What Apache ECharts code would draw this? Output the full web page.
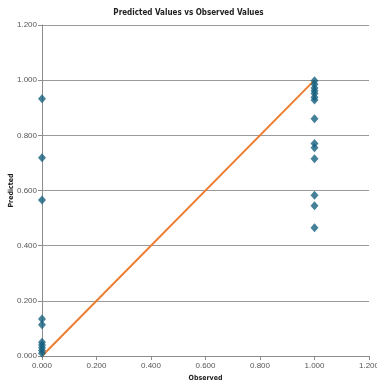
<!DOCTYPE html>
<html>
<head>
<meta charset="utf-8">
<script src="https://cdn.jsdelivr.net/npm/echarts@6/dist/echarts.min.js"></script>
<style>
    html, body { margin: 0; padding: 0; background: #fff; }
    #chart { width: 377px; height: 389px; }
</style>
</head>
<body>
<div id="chart"></div>
<script>
const observedZero = [0, 0, 0, 0, 0, 0, 0, 0, 0, 0];
const predictedZero = [0.933, 0.719, 0.566, 0.134, 0.113, 0.05, 0.04, 0.03, 0.02, 0.01];
const observedOne = [1, 1, 1, 1, 1, 1, 1, 1, 1, 1, 1, 1, 1, 1];
const predictedOne = [0.998, 0.985, 0.972, 0.962, 0.952, 0.938, 0.928, 0.86, 0.77, 0.755, 0.715, 0.583, 0.545, 0.465];
const lineX = [0, 1];
const lineY = [0, 1];

(function () {
    const chart = echarts.init(document.getElementById('chart'));
    const points = observedZero.map((x, i) => [x, predictedZero[i]])
        .concat(observedOne.map((x, i) => [x, predictedOne[i]]));
    const fit = lineX.map((x, i) => [x, lineY[i]]);
    const titleFont = '"Liberation Sans Narrow", "DejaVu Sans Condensed", sans-serif';
    const font = '"Liberation Sans", sans-serif';
    const fmt = v => v.toFixed(3);

    chart.setOption({
        animation: false,
        title: {
            text: 'Predicted Values vs Observed Values',
            left: 'center',
            top: 4,
            textStyle: { fontFamily: titleFont, fontSize: 8, fontWeight: 'bold', color: '#222' }
        },
        grid: { left: 42, right: 8, top: 25, bottom: 33, outerBoundsMode: 'none', containLabel: false },
        xAxis: {
            type: 'value', min: 0, max: 1.2, interval: 0.2,
            name: 'Observed', nameLocation: 'middle', nameGap: 19,
            nameTextStyle: { fontFamily: titleFont, fontSize: 7, fontWeight: 'bold', color: '#222' },
            axisLine: { onZero: false, lineStyle: { color: '#8c8c8c' } },
            axisTick: { show: true, length: 4, lineStyle: { color: '#8c8c8c' } },
            axisLabel: { formatter: fmt, fontFamily: font, fontSize: 8, color: '#555', margin: 6 },
            splitLine: { show: false }
        },
        yAxis: {
            type: 'value', min: 0, max: 1.2, interval: 0.2,
            name: 'Predicted', nameLocation: 'middle', nameGap: 27, nameMoveOverlap: false,
            nameTextStyle: { fontFamily: titleFont, fontSize: 7, fontWeight: 'bold', color: '#222' },
            axisLine: { show: true, lineStyle: { color: '#8c8c8c' } },
            axisTick: { show: true, length: 4, lineStyle: { color: '#8c8c8c' } },
            axisLabel: { formatter: fmt, fontFamily: font, fontSize: 8, color: '#555', margin: 5 },
            splitLine: { lineStyle: { color: '#9a9a9a' } }
        },
        series: [{
            type: 'line',
            data: fit,
            symbol: 'none',
            lineStyle: { color: '#ed7d31', width: 2 },
            z: 2
        }, {
            type: 'scatter',
            data: points,
            symbol: 'diamond',
            symbolSize: [8, 9],
            itemStyle: { color: '#17607f' },
            z: 3
        }]
    });

    window.addEventListener('resize', chart.resize.bind(chart));
})();
</script>
</body>
</html>
